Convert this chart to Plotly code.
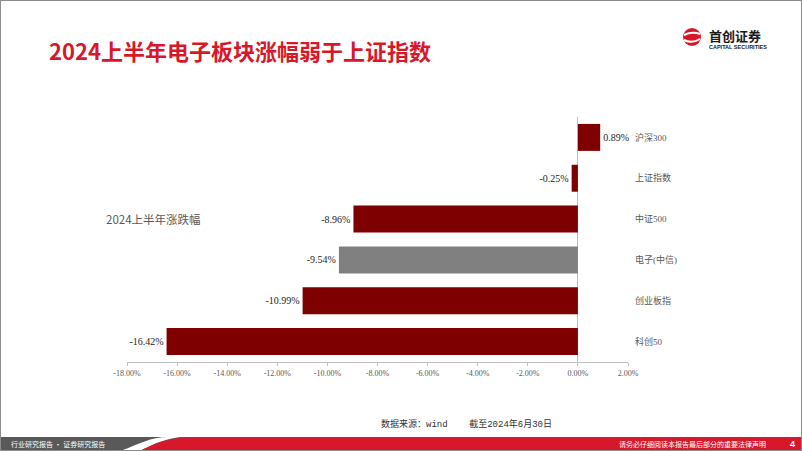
import plotly.graph_objects as go

W, H = 802, 451

# data
categories = ['沪深300', '上证指数', '中证500', '电子(中信)', '创业板指', '科创50']
changes = [0.89, -0.25, -8.96, -9.54, -10.99, -16.42]
bar_colors = ['#7F0000', '#7F0000', '#7F0000', '#808080', '#7F0000', '#7F0000']
tick_vals = [-18, -16, -14, -12, -10, -8, -6, -4, -2, 0, 2]
tick_text = ['-18.00%', '-16.00%', '-14.00%', '-12.00%', '-10.00%', '-8.00%',
             '-6.00%', '-4.00%', '-2.00%', '0.00%', '2.00%']


def px(x):
    return x / W


def py(y):
    return 1 - y / H


fig = go.Figure()

fig.add_trace(go.Bar(
    x=changes,
    y=categories,
    orientation='h',
    marker=dict(color=bar_colors, line=dict(width=0)),
    text=[f'{v:.2f}%' for v in changes],
    textposition='outside',
    constraintext='none',
    cliponaxis=False,
    textfont=dict(family='Liberation Serif', size=10, color='#262626'),
    showlegend=False,
))

shapes = [
    # footer bar
    dict(type='rect', xref='paper', yref='paper', x0=0, x1=1, y0=0, y1=py(437),
         fillcolor='#595959', line_width=0, layer='above'),
    dict(type='path', xref='paper', yref='paper', layer='above', line_width=0,
         fillcolor='white',
         path=f'M {px(120)},{py(451)} C {px(140)},{py(444)} {px(150)},{py(437)} {px(168)},{py(437)} '
              f'L {px(180)},{py(437)} C {px(160)},{py(440)} {px(150)},{py(446)} {px(140)},{py(451)} Z'),
    dict(type='path', xref='paper', yref='paper', layer='above', line_width=0,
         fillcolor='#D7182A',
         path=f'M {px(140)},{py(451)} C {px(150)},{py(446)} {px(160)},{py(440)} {px(180)},{py(438)} '
              f'L {px(802)},{py(438)} L {px(802)},{py(451)} Z'),
    # logo
    dict(type='circle', xref='paper', yref='paper', layer='above',
         x0=px(683), x1=px(701), y0=py(46), y1=py(28),
         fillcolor='#D7182A', line_width=0),
    dict(type='path', xref='paper', yref='paper', layer='above',
         line=dict(color='white', width=2), fillcolor='rgba(0,0,0,0)',
         path=f'M {px(684)},{py(35)} Q {px(692)},{py(31)} {px(700)},{py(34)}'),
    dict(type='path', xref='paper', yref='paper', layer='above',
         line=dict(color='white', width=2), fillcolor='rgba(0,0,0,0)',
         path=f'M {px(684)},{py(40)} Q {px(692)},{py(44)} {px(700)},{py(39)}'),
    # slide border
    dict(type='rect', xref='paper', yref='paper', x0=0, x1=1, y0=0, y1=1,
         line=dict(color='#8C8C8C', width=2), layer='above'),
]

annotations = [
    dict(text='<b>2024上半年电子板块涨幅弱于上证指数</b>', x=px(47), y=py(50),
         xanchor='left', yanchor='middle',
         font=dict(family='Noto Sans CJK SC', size=22, color='#D7182A')),
    dict(text='<b>首创证券</b>', x=px(707), y=py(35), xanchor='left', yanchor='middle',
         font=dict(family='Noto Sans CJK SC', size=13, color='#1A1A1A')),
    dict(text='<b>CAPITAL SECURITIES</b>', x=px(707), y=py(46.5), xanchor='left', yanchor='middle',
         font=dict(family='Liberation Sans', size=5.5, color='#1A1A1A')),
    dict(text='2024上半年涨跌幅', x=px(104), y=py(219), xanchor='left', yanchor='middle',
         font=dict(family='Noto Sans CJK SC', size=11.5, color='#595959')),
    dict(text='数据来源：wind    截至2024年6月30日', x=px(466), y=py(424),
         xanchor='center', yanchor='middle',
         font=dict(family='Liberation Mono, Noto Sans CJK SC', size=9, color='#333333')),
    dict(text='行业研究报告 · 证券研究报告', x=px(9), y=py(444), xanchor='left', yanchor='middle',
         font=dict(family='Noto Sans CJK SC', size=7, color='white')),
    dict(text='请务必仔细阅读本报告最后部分的重要法律声明', x=px(768), y=py(444),
         xanchor='right', yanchor='middle',
         font=dict(family='Noto Sans CJK SC', size=7, color='white')),
    dict(text='<b>4</b>', x=px(792), y=py(444), xanchor='center', yanchor='middle',
         font=dict(family='Liberation Sans', size=9, color='white')),
]
for a in annotations:
    a.update(xref='paper', yref='paper', showarrow=False)

fig.update_layout(
    width=W, height=H,
    margin=dict(l=0, r=0, t=0, b=0),
    paper_bgcolor='white',
    plot_bgcolor='white',
    bargap=0.34,
    shapes=shapes,
    annotations=annotations,
    xaxis=dict(
        domain=[px(127), px(628)],
        range=[-18, 2],
        tickvals=tick_vals,
        ticktext=tick_text,
        tickfont=dict(family='Liberation Serif', size=8, color='#595959'),
        showgrid=False,
        showline=True,
        linecolor='#BFBFBF',
        linewidth=1,
        ticks='outside',
        ticklen=3,
        tickcolor='#BFBFBF',
        zeroline=True,
        zerolinecolor='#BFBFBF',
        zerolinewidth=1,
        automargin=False,
    ),
    yaxis=dict(
        domain=[py(362), py(117)],
        categoryorder='array',
        categoryarray=categories,
        autorange='reversed',
        side='right',
        showgrid=False,
        showline=False,
        ticks='',
        ticklabelstandoff=6,
        tickfont=dict(family='Liberation Serif, Noto Sans CJK SC', size=9, color='#595959'),
        automargin=False,
    ),
)

fig.write_html('out.html', config={'displayModeBar': False},
               post_script="document.body.style.margin='0';document.body.style.overflow='hidden';")
